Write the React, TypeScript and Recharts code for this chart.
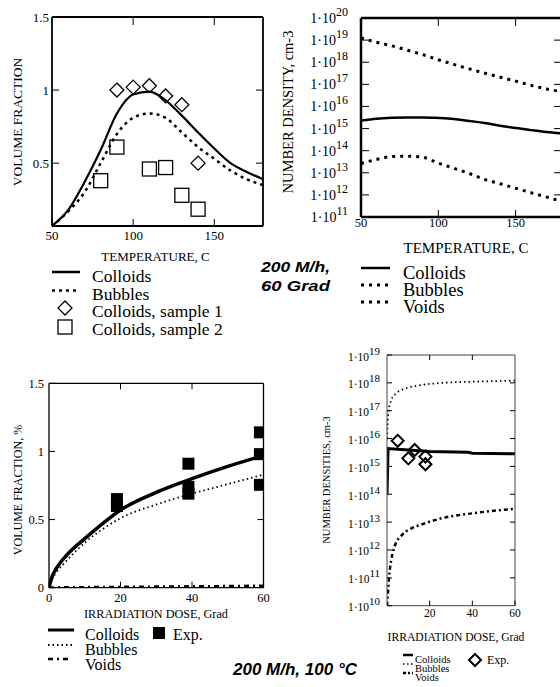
import React from "react";
import { ComposedChart, Line, Scatter, XAxis, YAxis } from "recharts";

const SERIF = "'Liberation Serif', 'Times New Roman', serif";
const SANS = "'Liberation Sans', Arial, sans-serif";

// top-left: volume fraction vs temperature
const tempC = [50, 60, 70, 80, 90, 100, 110, 120, 130, 140, 150, 160, 170, 180];
const vfColloids = [0.07, 0.18, 0.37, 0.59, 0.84, 0.97, 0.99, 0.93, 0.825, 0.71, 0.6, 0.5, 0.44, 0.39];
const vfBubbles = [0.07, 0.17, 0.3, 0.5, 0.7, 0.81, 0.84, 0.81, 0.71, 0.61, 0.53, 0.45, 0.39, 0.35];
const sample1T = [90, 100, 110, 120, 130, 140];
const sample1Vf = [1.0, 1.02, 1.03, 0.96, 0.9, 0.5];
const sample2T = [80, 90, 110, 120, 130, 140];
const sample2Vf = [0.38, 0.61, 0.46, 0.47, 0.28, 0.185];

// top-right: number density vs temperature, cm-3
const ndColloidsT = [2.3e15, 2.8e15, 3.1e15, 3.2e15, 3.2e15, 3.0e15, 2.7e15, 2.2e15, 1.8e15, 1.35e15, 1.05e15, 8.5e14, 7e14, 6e14];
const ndBubblesT = [1.26e19, 8e18, 5.5e18, 3.5e18, 2.2e18, 1.3e18, 8e17, 5e17, 3.2e17, 2.1e17, 1.4e17, 9e16, 6.2e16, 4.6e16];
const ndVoidsT = [2.6e13, 4e13, 5.4e13, 5.6e13, 5e13, 2.75e13, 1.6e13, 9.3e12, 5e12, 3.2e12, 2e12, 1.25e12, 8e11, 5e11];

// bottom-left: volume fraction vs dose
const doseGrad = [0, 1, 2, 5, 10, 15, 20, 30, 40, 50, 60];
const vfDoseColloids = [0, 0.09, 0.14, 0.24, 0.36, 0.47, 0.57, 0.7, 0.8, 0.89, 0.97];
const vfDoseBubbles = [0, 0.07, 0.11, 0.2, 0.33, 0.43, 0.51, 0.61, 0.69, 0.76, 0.83];
const vfDoseVoids = [0, 0.001, 0.002, 0.003, 0.004, 0.005, 0.006, 0.008, 0.01, 0.012, 0.015];
const expDose = [19, 19, 39, 39, 39, 59, 59, 59];
const expVf = [0.65, 0.6, 0.91, 0.74, 0.69, 1.14, 0.98, 0.755];

// bottom-right: number densities vs dose, cm-3
const colloidsDoseX = [0, 0.5, 10, 20, 38, 40, 60];
const colloidsDoseN = [1e14, 4.4e15, 3.9e15, 3.4e15, 3.2e15, 3.0e15, 2.85e15];
const bubblesDoseX = [0, 0.6, 2, 4.3, 8.7, 16, 26, 40, 60];
const bubblesDoseN = [1e16, 8e16, 2.4e17, 4.2e17, 6.3e17, 8.3e17, 1e18, 1.1e18, 1.2e18];
const voidsDoseX = [0, 0.6, 1.3, 2, 3.5, 7.1, 11.5, 16.7, 26, 40.6, 60];
const voidsDoseN = [1e10, 4.2e10, 1.9e11, 4.4e11, 1.3e12, 3.5e12, 6e12, 8.5e12, 1.4e13, 2.1e13, 3e13];
const expNdX = [5, 10, 13, 18, 18];
const expNd = [8.3e15, 1.95e15, 3.9e15, 2.25e15, 1.2e15];

const pts = (xs: number[], ys: number[]) => xs.map((x, i) => ({ x, y: ys[i] }));

const tickBottom = (len: number, fs = 0, dy = 0) => (p: any) => (
  <g>
    {len > 0 && <line x1={p.x} x2={p.x} y1={p.y} y2={p.y - len} stroke="#000" />}
    {fs > 0 && (
      <text x={p.x} y={p.y + dy} textAnchor="middle" fontFamily={SERIF} fontSize={fs}>
        {p.payload.value}
      </text>
    )}
  </g>
);
const tickTop = (len: number) => (p: any) => (
  <line x1={p.x} x2={p.x} y1={p.y} y2={p.y + len} stroke="#000" />
);
const tickLeft = (len: number, fs: number, dx: number) => (p: any) => (
  <g>
    <line x1={p.x} x2={p.x + len} y1={p.y} y2={p.y} stroke="#000" />
    <text x={p.x - dx} y={p.y + fs * 0.35} textAnchor="end" fontFamily={SERIF} fontSize={fs}>
      {p.payload.value}
    </text>
  </g>
);
const tickLeftLog = (len: number, fs: number, sfs: number, dx: number, dy: number, up: number) => (p: any) => (
  <g>
    <line x1={p.x} x2={p.x + len} y1={p.y} y2={p.y} stroke="#000" />
    <text x={p.x - dx} y={p.y + dy} textAnchor="end" fontFamily={SERIF} fontSize={fs}>
      {"1\u00b710"}
      <tspan fontSize={sfs} dy={-up}>{Math.round(Math.log10(p.payload.value))}</tspan>
    </text>
  </g>
);
const tickRight = (len: number) => (p: any) => (
  <line x1={p.x} x2={p.x - len} y1={p.y} y2={p.y} stroke="#000" />
);

const diamond = (r: number, sw: number) => (p: any) => (
  <path
    d={`M${p.cx},${p.cy - r}L${p.cx + r},${p.cy}L${p.cx},${p.cy + r}L${p.cx - r},${p.cy}Z`}
    fill="none"
    stroke="#000"
    strokeWidth={sw}
  />
);
const square = (s: number, filled: boolean) => (p: any) => (
  <rect
    x={p.cx - s / 2}
    y={p.cy - s / 2}
    width={s}
    height={s}
    fill={filled ? "#000" : "none"}
    stroke="#000"
    strokeWidth={filled ? 0 : 1.3}
  />
);

const common = { tickSize: 0, tickMargin: 0, tickLine: false, interval: 0 as const, allowDataOverflow: true };
const noM = { top: 0, right: 0, bottom: 0, left: 0 };

export default function App() {
  const f1 = { stroke: "#000", strokeWidth: 1.8 };
  const f2 = { stroke: "#000", strokeWidth: 2.5 };
  const f3 = { stroke: "#000", strokeWidth: 1.3 };
  const f4 = { stroke: "#444", strokeWidth: 1 };
  return (
    <div style={{ position: "absolute", left: 0, top: 0, width: 560, height: 687, overflow: "hidden", background: "#fff" }}>
      {/* top-left */}
      <div style={{ position: "absolute", left: 0, top: 0 }}>
        <ComposedChart width={280} height={250} margin={noM}>
          <XAxis {...common} xAxisId="b" dataKey="x" type="number" domain={[50, 180]} ticks={[50, 100, 150]} height={24} axisLine={f1} tick={tickBottom(7, 13, 13.5)} />
          <XAxis {...common} xAxisId="t" orientation="top" dataKey="x" type="number" domain={[50, 180]} ticks={[100, 150]} height={17} axisLine={f1} tick={tickTop(8)} />
          <YAxis {...common} yAxisId="l" dataKey="y" type="number" domain={[0.07, 1.5]} ticks={[0.5, 1, 1.5]} width={52} axisLine={f1} tick={tickLeft(7, 13, 3)} />
          <YAxis {...common} yAxisId="r" orientation="right" dataKey="y" type="number" domain={[0.07, 1.5]} ticks={[0.5, 1]} width={17} axisLine={f1} tick={tickRight(7)} />
          <Line xAxisId="b" yAxisId="l" data={pts(tempC, vfColloids)} dataKey="y" type="monotone" stroke="#000" strokeWidth={2.2} dot={false} activeDot={false} isAnimationActive={false} />
          <Line xAxisId="b" yAxisId="l" data={pts(tempC, vfBubbles)} dataKey="y" type="monotone" stroke="#000" strokeWidth={2.5} strokeDasharray="3 4" dot={false} activeDot={false} isAnimationActive={false} />
          <Scatter xAxisId="b" yAxisId="l" data={pts(sample1T, sample1Vf)} dataKey="y" shape={diamond(7, 1.3)} isAnimationActive={false} />
          <Scatter xAxisId="b" yAxisId="l" data={pts(sample2T, sample2Vf)} dataKey="y" shape={square(14, false)} isAnimationActive={false} />
        </ComposedChart>
      </div>

      {/* top-right */}
      <div style={{ position: "absolute", left: 280, top: 0 }}>
        <ComposedChart width={290} height={241} margin={noM}>
          <XAxis {...common} xAxisId="b" dataKey="x" type="number" domain={[50, 180]} ticks={[50, 100, 150]} height={24} axisLine={f2} tick={tickBottom(7, 12.5, 9.5)} />
          <XAxis {...common} xAxisId="t" orientation="top" dataKey="x" type="number" domain={[50, 180]} ticks={[100, 150]} height={18} axisLine={f2} tick={tickTop(8)} />
          <YAxis {...common} yAxisId="l" dataKey="y" type="number" scale="log" domain={[1e11, 1e20]} ticks={[1e11, 1e12, 1e13, 1e14, 1e15, 1e16, 1e17, 1e18, 1e19, 1e20]} width={81} axisLine={f2} tick={tickLeftLog(8, 14, 12, 13, 5, 7)} />
          <YAxis {...common} yAxisId="r" orientation="right" dataKey="y" type="number" scale="log" domain={[1e11, 1e20]} ticks={[1e12, 1e13, 1e14, 1e15, 1e16, 1e17, 1e18, 1e19]} width={8} axisLine={f2} tick={tickRight(8)} />
          <Line xAxisId="b" yAxisId="l" data={pts(tempC, ndColloidsT)} dataKey="y" type="monotone" stroke="#000" strokeWidth={2.5} dot={false} activeDot={false} isAnimationActive={false} />
          <Line xAxisId="b" yAxisId="l" data={pts(tempC, ndBubblesT)} dataKey="y" type="monotone" stroke="#000" strokeWidth={3} strokeDasharray="3 5" dot={false} activeDot={false} isAnimationActive={false} />
          <Line xAxisId="b" yAxisId="l" data={pts(tempC, ndVoidsT)} dataKey="y" type="monotone" stroke="#000" strokeWidth={3} strokeDasharray="3 5" dot={false} activeDot={false} isAnimationActive={false} />
        </ComposedChart>
      </div>

      {/* bottom-left */}
      <div style={{ position: "absolute", left: 0, top: 370 }}>
        <ComposedChart width={280} height={238} margin={noM}>
          <XAxis {...common} xAxisId="b" dataKey="x" type="number" domain={[0, 60]} ticks={[0, 20, 40, 60]} height={20.3} axisLine={f3} tick={tickBottom(6, 12.5, 14)} />
          <XAxis {...common} xAxisId="t" orientation="top" dataKey="x" type="number" domain={[0, 60]} ticks={[20, 40]} height={13.3} axisLine={f3} tick={tickTop(6)} />
          <YAxis {...common} yAxisId="l" dataKey="y" type="number" domain={[0, 1.5]} ticks={[0, 0.5, 1, 1.5]} width={49} axisLine={f3} tick={tickLeft(6, 12.5, 5)} />
          <YAxis {...common} yAxisId="r" orientation="right" dataKey="y" type="number" domain={[0, 1.5]} ticks={[0.5, 1]} width={16.5} axisLine={f3} tick={tickRight(6)} />
          <Line xAxisId="b" yAxisId="l" data={pts(doseGrad, vfDoseColloids)} dataKey="y" type="monotone" stroke="#000" strokeWidth={3.5} dot={false} activeDot={false} isAnimationActive={false} />
          <Line xAxisId="b" yAxisId="l" data={pts(doseGrad, vfDoseBubbles)} dataKey="y" type="monotone" stroke="#000" strokeWidth={1.8} strokeDasharray="1.5 3" dot={false} activeDot={false} isAnimationActive={false} />
          <Line xAxisId="b" yAxisId="l" data={pts(doseGrad, vfDoseVoids)} dataKey="y" type="monotone" stroke="#000" strokeWidth={2.5} strokeDasharray="5 4 2 4" dot={false} activeDot={false} isAnimationActive={false} />
          <Scatter xAxisId="b" yAxisId="l" data={pts(expDose, expVf)} dataKey="y" shape={square(12, true)} isAnimationActive={false} />
        </ComposedChart>
      </div>

      {/* bottom-right */}
      <div style={{ position: "absolute", left: 290, top: 340 }}>
        <ComposedChart width={250} height={286} margin={noM}>
          <XAxis {...common} xAxisId="b" dataKey="x" type="number" domain={[0, 60]} ticks={[20, 40, 60]} height={20.3} axisLine={f4} tick={tickBottom(5, 11.5, 11.5)} />
          <XAxis {...common} xAxisId="t" orientation="top" dataKey="x" type="number" domain={[0, 60]} ticks={[20, 40]} height={15} axisLine={f4} tick={tickTop(5)} />
          <YAxis {...common} yAxisId="l" dataKey="y" type="number" scale="log" domain={[1e10, 1e19]} ticks={[1e10, 1e11, 1e12, 1e13, 1e14, 1e15, 1e16, 1e17, 1e18, 1e19]} width={97} axisLine={f4} tick={tickLeftLog(5, 11.5, 11, 7, 5.5, 6)} />
          <YAxis {...common} yAxisId="r" orientation="right" dataKey="y" type="number" scale="log" domain={[1e10, 1e19]} ticks={[1e11, 1e12, 1e13, 1e14, 1e15, 1e16, 1e17, 1e18]} width={25} axisLine={f4} tick={tickRight(5)} />
          <Line xAxisId="b" yAxisId="l" data={pts(bubblesDoseX, bubblesDoseN)} dataKey="y" type="monotone" stroke="#000" strokeWidth={1.8} strokeDasharray="1.5 3" dot={false} activeDot={false} isAnimationActive={false} />
          <Line xAxisId="b" yAxisId="l" data={pts(voidsDoseX, voidsDoseN)} dataKey="y" type="monotone" stroke="#000" strokeWidth={2.5} strokeDasharray="4 3 2 3" dot={false} activeDot={false} isAnimationActive={false} />
          <Line xAxisId="b" yAxisId="l" data={pts(colloidsDoseX, colloidsDoseN)} dataKey="y" type="linear" stroke="#000" strokeWidth={3} dot={false} activeDot={false} isAnimationActive={false} />
          <Scatter xAxisId="b" yAxisId="l" data={pts(expNdX, expNd)} dataKey="y" shape={diamond(6, 2)} isAnimationActive={false} />
        </ComposedChart>
      </div>

      {/* labels, legends, titles */}
      <svg width={560} height={687} style={{ position: "absolute", left: 0, top: 0, pointerEvents: "none" }} fontFamily={SERIF}>
        {/* top-left */}
        <text transform="translate(22,122) rotate(-90)" textAnchor="middle" fontSize={13.5}>VOLUME FRACTION</text>
        <text x={155.5} y={261} textAnchor="middle" fontSize={13}>TEMPERATURE, C</text>
        <line x1={52} x2={80} y1={272} y2={272} stroke="#000" strokeWidth={2.5} />
        <line x1={52} x2={80} y1={290.5} y2={290.5} stroke="#000" strokeWidth={2.5} strokeDasharray="3 4" />
        <path d="M65,301L72,308L65,315L58,308Z" fill="none" stroke="#000" strokeWidth={1.3} />
        <rect x={58} y={320} width={14} height={14} fill="none" stroke="#000" strokeWidth={1.3} />
        <text x={92} y={282} fontSize={17.5}>Colloids</text>
        <text x={92} y={299.5} fontSize={17.5}>Bubbles</text>
        <text x={92} y={317} fontSize={17.5}>Colloids, sample 1</text>
        <text x={92} y={334.5} fontSize={17.5}>Colloids, sample 2</text>
        <text x={261} y={271.5} fontFamily={SANS} fontWeight="bold" fontStyle="italic" fontSize={15.5} textLength={69} lengthAdjust="spacingAndGlyphs">200 M/h,</text>
        <text x={261} y={291} fontFamily={SANS} fontWeight="bold" fontStyle="italic" fontSize={15.5} textLength={69} lengthAdjust="spacingAndGlyphs">60 Grad</text>

        {/* top-right */}
        <text transform="translate(293,112) rotate(-90)" textAnchor="middle" fontSize={14.5}>NUMBER DENSITY, cm-3</text>
        <text x={466} y={253} textAnchor="middle" fontSize={15}>TEMPERATURE, C</text>
        <line x1={361} x2={390} y1={268} y2={268} stroke="#000" strokeWidth={2.5} />
        <line x1={361} x2={390} y1={285} y2={285} stroke="#000" strokeWidth={3} strokeDasharray="3 5" />
        <line x1={361} x2={390} y1={302} y2={302} stroke="#000" strokeWidth={3} strokeDasharray="3 5" />
        <text x={403} y={279} fontSize={18.5}>Colloids</text>
        <text x={403} y={296} fontSize={18.5}>Bubbles</text>
        <text x={403} y={313} fontSize={18.5}>Voids</text>

        {/* bottom-left */}
        <text transform="translate(22,490) rotate(-90)" textAnchor="middle" fontSize={12}>VOLUME FRACTION, %</text>
        <text x={156} y={618} textAnchor="middle" fontSize={12.2}>IRRADIATION DOSE, Grad</text>
        <line x1={48} x2={74} y1={630} y2={630} stroke="#000" strokeWidth={3} />
        <line x1={48} x2={72} y1={645} y2={645} stroke="#000" strokeWidth={1.8} strokeDasharray="1.5 3" />
        <line x1={48} x2={72} y1={659} y2={659} stroke="#000" strokeWidth={2.5} strokeDasharray="5 4 2 4" />
        <rect x={153} y={627} width={12} height={12} fill="#000" />
        <text x={85} y={639.5} fontSize={16}>Colloids</text>
        <text x={173} y={639.5} fontSize={16}>Exp.</text>
        <text x={85} y={654.5} fontSize={16}>Bubbles</text>
        <text x={85} y={669.5} fontSize={16}>Voids</text>
        <text x={233} y={675} fontFamily={SANS} fontWeight="bold" fontStyle="italic" fontSize={16} textLength={124} lengthAdjust="spacingAndGlyphs">200 M/h, 100 °C</text>

        {/* bottom-right */}
        <text transform="translate(330,480) rotate(-90)" textAnchor="middle" fontSize={10.5}>NUMBER DENSITIES, cm-3</text>
        <text x={456} y={641} textAnchor="middle" fontSize={11.6}>IRRADIATION DOSE, Grad</text>
        <line x1={403} x2={413} y1={655} y2={655} stroke="#000" strokeWidth={2.5} />
        <line x1={403} x2={413} y1={664} y2={664} stroke="#000" strokeWidth={1.5} strokeDasharray="1.5 2.5" />
        <line x1={403} x2={413} y1={673} y2={673} stroke="#000" strokeWidth={2.5} strokeDasharray="3 2 2 2" />
        <path d="M475,654L481,660L475,666L469,660Z" fill="none" stroke="#000" strokeWidth={2} />
        <text x={415} y={663} fontSize={10.5}>Colloids</text>
        <text x={487} y={664} fontSize={12}>Exp.</text>
        <text x={415} y={672} fontSize={10.5}>Bubbles</text>
        <text x={415} y={681} fontSize={10.5}>Voids</text>
      </svg>
    </div>
  );
}
